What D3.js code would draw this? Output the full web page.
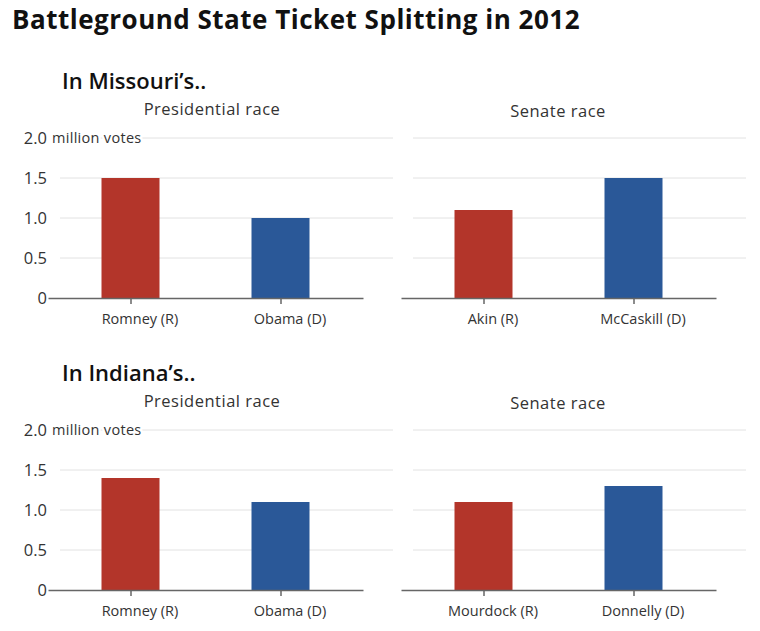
<!DOCTYPE html>
<html>
<head>
<meta charset="utf-8">
<script src="https://cdn.jsdelivr.net/npm/d3@7"></script>
<style>
  body { margin: 0; background: #fff; }
  text { font-family: "Open Sans", "Noto Sans", sans-serif; fill: #222; }
</style>
</head>
<body>
<svg id="chart" width="760" height="631"></svg>
<script>
// Chart values
const stateTitles = ["In Missouri\u2019s..", "In Indiana\u2019s.."];
const raceTitles = ["Presidential race", "Senate race"];
const missouriCandidates = [["Romney (R)", "Obama (D)"], ["Akin (R)", "McCaskill (D)"]];
const missouriVotes = [[1.5, 1.0], [1.1, 1.5]];
const indianaCandidates = [["Romney (R)", "Obama (D)"], ["Mourdock (R)", "Donnelly (D)"]];
const indianaVotes = [[1.4, 1.1], [1.1, 1.3]];
const parties = ["R", "D"];
const yTicks = [0, 0.5, 1.0, 1.5, 2.0];

const partyColor = { R: "#b3352a", D: "#2a5898" };
const font = "'Open Sans', 'Noto Sans', sans-serif";

const svg = d3.select("#chart");

svg.append("text")
  .attr("x", 12).attr("y", 29)
  .style("font-size", "26px").style("font-weight", 700).style("fill", "#111")
  .style("letter-spacing", "0.5px")
  .text("Battleground State Ticket Splitting in 2012");

const states = [
  { title: stateTitles[0], candidates: missouriCandidates, votes: missouriVotes, top: 0 },
  { title: stateTitles[1], candidates: indianaCandidates, votes: indianaVotes, top: 292 }
];

states.forEach(st => {
  const g = svg.append("g").attr("transform", `translate(0,${st.top})`);

  g.append("text")
    .attr("x", 62).attr("y", 89)
    .style("font-size", "22px").style("font-weight", 600).style("fill", "#111")
    .text(st.title);

  const y = d3.scaleLinear().domain([0, 2]).range([298, 138]);

  raceTitles.forEach((race, i) => {
    const off = i * 353;
    const pg = g.append("g").attr("transform", `translate(${off},0)`);

    pg.append("text")
      .attr("x", i === 0 ? 212 : 205).attr("y", i === 0 ? 115 : 117)
      .attr("text-anchor", "middle")
      .style("font-size", "16.5px").style("letter-spacing", "0.5px").style("fill", "#333")
      .text(race);

    // gridlines
    pg.append("g").selectAll("line")
      .data(yTicks.filter(d => d > 0))
      .join("line")
      .attr("x1", 60).attr("x2", 393)
      .attr("y1", d => y(d)).attr("y2", d => y(d))
      .attr("stroke", "#e2e2e2").attr("stroke-width", 1);

    const x = d3.scalePoint()
      .domain(st.candidates[i])
      .range([48, 363])
      .padding(0.55);

    pg.selectAll("rect")
      .data(st.candidates[i].map((c, j) => ({ c, v: st.votes[i][j], p: parties[j] })))
      .join("rect")
      .attr("x", d => x(d.c) - 29)
      .attr("width", 58)
      .attr("y", d => y(d.v))
      .attr("height", d => y(0) - y(d.v))
      .attr("fill", d => partyColor[d.p]);

    const xAxis = pg.append("g")
      .attr("transform", `translate(0,${y(0)})`)
      .call(d3.axisBottom(x).tickSize(6).tickSizeOuter(0).tickPadding(10));
    xAxis.select(".domain").attr("stroke", "#666").attr("stroke-width", 1.5);
    xAxis.selectAll(".tick line").attr("stroke", "#666").attr("stroke-width", 1.5);
    xAxis.selectAll(".tick text")
      .attr("dx", 9)
      .style("font-family", font)
      .style("font-size", "14.5px").style("fill", "#333");

    if (i === 0) {
      const yAxis = pg.append("g")
        .attr("transform", "translate(47,0)")
        .call(d3.axisLeft(y).tickValues(yTicks).tickSize(0).tickPadding(0)
          .tickFormat(d => d === 0 ? "0" : d3.format(".1f")(d)));
      yAxis.select(".domain").remove();
      yAxis.selectAll(".tick text")
        .style("font-family", font)
        .style("font-size", "16.5px").style("fill", "#333");

      pg.append("text")
        .attr("x", 52).attr("y", y(2)).attr("dy", "0.35em")
        .style("font-size", "14.5px").style("letter-spacing", "0.3px").style("fill", "#333")
        .attr("stroke", "#fff").attr("stroke-width", 5)
        .attr("paint-order", "stroke")
        .text("million votes");
    }
  });
});
</script>
</body>
</html>
